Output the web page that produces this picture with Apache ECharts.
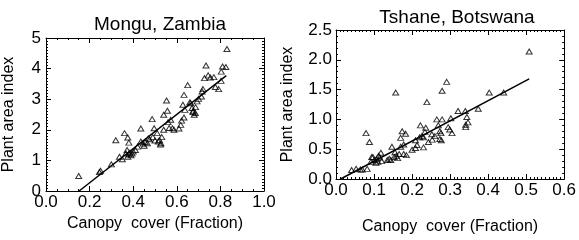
<!DOCTYPE html>
<html>
<head>
<meta charset="utf-8">
<script src="https://cdn.jsdelivr.net/npm/echarts@6/dist/echarts.min.js"></script>
<style>
  html, body { margin: 0; padding: 0; background: #fff; }
  #chart { width: 579px; height: 240px; }
</style>
</head>
<body>
<div id="chart"></div>
<script>
// Mongu, Zambia
const monguCover = [0.15, 0.245, 0.25, 0.30, 0.337, 0.35, 0.32, 0.36, 0.375, 0.38, 0.372, 0.367, 0.38, 0.39, 0.375, 0.385, 0.395, 0.40, 0.41, 0.42,
  0.435, 0.435, 0.45, 0.455, 0.465, 0.47, 0.475, 0.49, 0.487, 0.496, 0.51, 0.515, 0.52, 0.527, 0.525, 0.531, 0.54, 0.553, 0.557, 0.572,
  0.565, 0.58, 0.587, 0.61, 0.618, 0.622, 0.633, 0.637, 0.628, 0.633, 0.65, 0.663, 0.67, 0.674, 0.68, 0.685, 0.686, 0.693, 0.70, 0.713,
  0.716, 0.72, 0.727, 0.734, 0.744, 0.754, 0.77, 0.777, 0.792, 0.803, 0.81, 0.825, 0.83, 0.804, 0.66, 0.675, 0.56, 0.5, 0.445, 0.54];
const monguPai = [0.49, 0.62, 0.66, 0.87, 1.12, 1.04, 1.66, 1.89, 1.75, 1.58, 1.34, 1.23, 1.2, 1.17, 1.12, 1.25, 1.22, 1.29, 1.34, 1.45,
  2.04, 1.62, 1.48, 1.6, 1.56, 1.72, 1.69, 1.76, 2.35, 2.05, 1.89, 1.62, 1.67, 1.56, 1.52, 1.76, 2.49, 2.96, 2.62, 2.33,
  2.06, 2.05, 2.0, 2.04, 2.16, 2.30, 2.4, 2.65, 2.82, 3.14, 3.46, 2.87, 2.71, 2.58, 2.49, 2.55, 2.74, 2.93, 3.01, 3.09,
  3.25, 3.33, 3.69, 4.1, 3.78, 3.71, 3.72, 3.4, 3.33, 3.6, 4.07, 4.05, 4.64, 3.9, 2.9, 2.62, 2.25, 1.65, 1.55, 2.0];
const monguFitX = [0.152, 0.827];
const monguFitY = [0.0, 3.77];

// Tshane, Botswana
const tshaneCover = [0.508, 0.441, 0.403, 0.374, 0.347, 0.344, 0.34, 0.341, 0.341, 0.321, 0.305, 0.302, 0.299, 0.295, 0.291, 0.279, 0.279, 0.265,
  0.273, 0.276, 0.277, 0.273, 0.269, 0.253, 0.252, 0.243, 0.236, 0.239, 0.234, 0.23, 0.222, 0.22, 0.213, 0.209, 0.209, 0.2, 0.183, 0.174,
  0.17, 0.178, 0.157, 0.17, 0.178, 0.166, 0.159, 0.153, 0.144, 0.14, 0.147, 0.135, 0.118, 0.112, 0.11, 0.107, 0.101, 0.097, 0.092, 0.088,
  0.079, 0.082, 0.069, 0.064, 0.053, 0.041, 0.094, 0.105, 0.23, 0.226, 0.155, 0.162, 0.12, 0.115, 0.185, 0.26];
const tshanePai = [2.14, 1.45, 1.45, 1.18, 0.95, 1.04, 1.14, 0.91, 0.87, 1.14, 0.77, 1.02, 0.83, 0.87, 1.63, 1.48, 1.0, 1.0,
  0.8, 0.77, 0.65, 0.67, 0.9, 0.66, 0.75, 0.62, 0.86, 1.29, 0.79, 0.53, 0.9, 0.7, 0.57, 0.65, 0.52, 0.49, 0.76, 0.8,
  0.69, 0.58, 1.45, 0.54, 0.42, 0.42, 0.39, 0.37, 0.32, 0.34, 0.54, 0.32, 0.44, 0.39, 0.29, 0.34, 0.32, 0.37, 0.29, 0.62,
  0.77, 0.17, 0.16, 0.16, 0.17, 0.15, 0.37, 0.27, 0.7, 0.72, 0.45, 0.35, 0.3, 0.36, 0.4, 0.72];
const tshaneFitX = [0.012, 0.508];
const tshaneFitY = [0.0, 1.68];

const titles = ["Mongu, Zambia", "Tshane, Botswana"];
const xName = "Canopy  cover (Fraction)";
const yName = "Plant area index";

const pairs = (xs, ys) => xs.map((x, i) => [x, ys[i]]);
const font = "Liberation Sans, Arial, Helvetica, sans-serif";

function makeAxis(opts) {
  // one side of the box: line, inward ticks, optional labels
  return {
    type: "value",
    gridIndex: opts.grid,
    position: opts.position,
    min: opts.min,
    max: opts.max,
    interval: opts.interval,
    name: opts.name || "",
    nameLocation: "middle",
    nameGap: opts.nameGap || 0,
    nameTextStyle: { fontFamily: font, fontSize: 16, color: "#000" },
    axisLine: { show: true, onZero: false, lineStyle: { color: "#000", width: 1 } },
    axisTick: { show: true, inside: true, length: 5, lineStyle: { color: "#000" } },
    minorTick: { show: true, splitNumber: opts.minor, length: 2, lineStyle: { color: "#000" } },
    splitLine: { show: false },
    axisLabel: {
      show: !!opts.labels,
      margin: opts.margin || 4,
      fontFamily: font,
      fontSize: 17,
      color: "#000",
      formatter: opts.fmt
    }
  };
}

const f1 = (v) => v.toFixed(1);
const f0 = (v) => v.toFixed(0);

const xAxis = [
  makeAxis({ grid: 0, position: "bottom", min: 0, max: 1, interval: 0.2, minor: 4, labels: true, fmt: f1, margin: 3, name: xName, nameGap: 22 }),
  makeAxis({ grid: 0, position: "top", min: 0, max: 1, interval: 0.2, minor: 4 }),
  makeAxis({ grid: 1, position: "bottom", min: 0, max: 0.6, interval: 0.1, minor: 10, labels: true, fmt: f1, margin: 3, name: xName, nameGap: 40 }),
  makeAxis({ grid: 1, position: "top", min: 0, max: 0.6, interval: 0.1, minor: 10 })
];
const yAxis = [
  makeAxis({ grid: 0, position: "left", min: 0, max: 5, interval: 1, minor: 10, labels: true, fmt: f0, margin: 5, name: yName, nameGap: 29 }),
  makeAxis({ grid: 0, position: "right", min: 0, max: 5, interval: 1, minor: 10 }),
  makeAxis({ grid: 1, position: "left", min: 0, max: 2.5, interval: 0.5, minor: 5, labels: true, fmt: f1, margin: 4, name: yName, nameGap: 40 }),
  makeAxis({ grid: 1, position: "right", min: 0, max: 2.5, interval: 0.5, minor: 5 })
];

const scatterStyle = {
  type: "scatter",
  symbol: "triangle",
  symbolSize: [6, 5],
  itemStyle: { color: "rgba(255,255,255,0)", borderColor: "#000", borderWidth: 1 },
  silent: true
};
const lineStyle = {
  type: "line",
  symbol: "none",
  lineStyle: { color: "#000", width: 1.5 },
  silent: true
};

const chart = echarts.init(document.getElementById("chart"), null, { renderer: "canvas" });
chart.setOption({
  animation: false,
  backgroundColor: "#fff",
  title: [
    { text: titles[0], left: 155, top: 10, textAlign: "center", textStyle: { fontFamily: font, fontSize: 19, fontWeight: "normal", color: "#000" } },
    { text: titles[1], left: 452, top: 3, textAlign: "center", textStyle: { fontFamily: font, fontSize: 19, fontWeight: "normal", color: "#000" } }
  ],
  grid: [
    { left: 45, top: 38, width: 219, height: 153 },
    { left: 336, top: 30, width: 232, height: 164 }
  ],
  xAxis,
  yAxis,
  series: [
    Object.assign({}, scatterStyle, { xAxisIndex: 0, yAxisIndex: 0, data: pairs(monguCover, monguPai) }),
    Object.assign({}, lineStyle, { xAxisIndex: 0, yAxisIndex: 0, data: pairs(monguFitX, monguFitY) }),
    Object.assign({}, scatterStyle, { xAxisIndex: 2, yAxisIndex: 2, data: pairs(tshaneCover, tshanePai) }),
    Object.assign({}, lineStyle, { xAxisIndex: 2, yAxisIndex: 2, data: pairs(tshaneFitX, tshaneFitY) })
  ]
});
</script>
</body>
</html>
